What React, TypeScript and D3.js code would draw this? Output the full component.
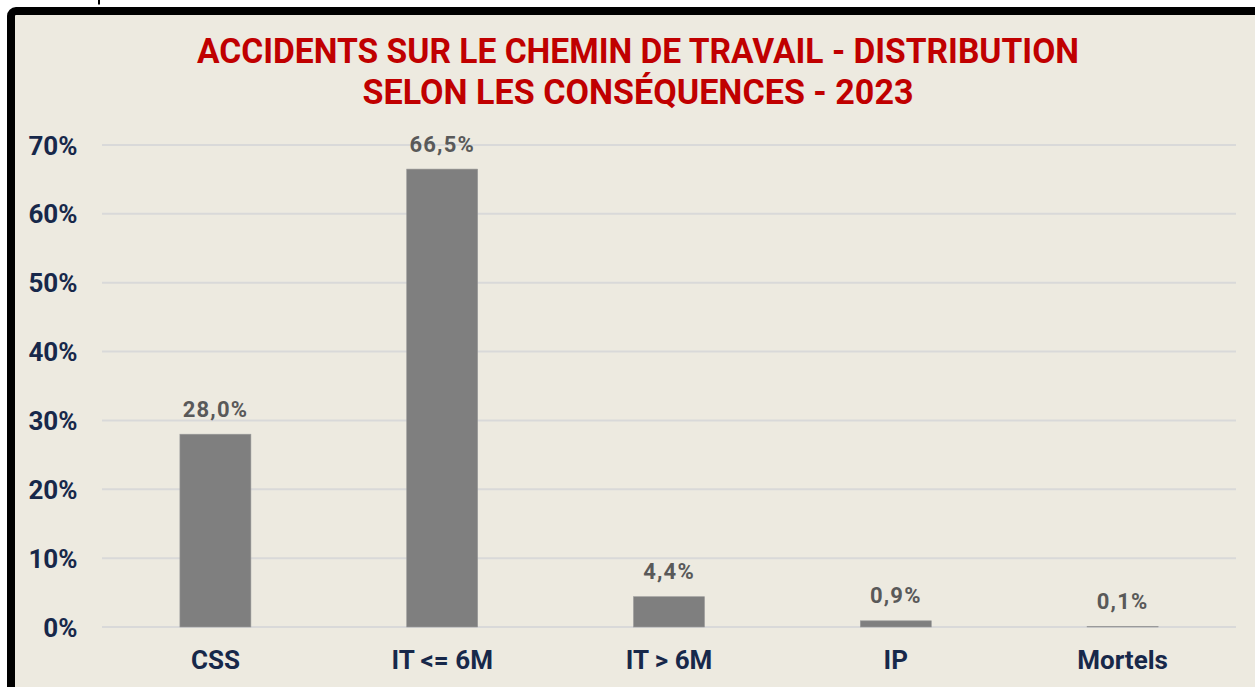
import React from "react";
import * as d3 from "d3";

const categories = ["CSS", "IT <= 6M", "IT > 6M", "IP", "Mortels"];
const values = [28.0, 66.5, 4.4, 0.9, 0.1];
const yTicks = [0, 10, 20, 30, 40, 50, 60, 70];
const titleLines = [
  "ACCIDENTS SUR LE CHEMIN DE TRAVAIL - DISTRIBUTION",
  "SELON LES CONSÉQUENCES - 2023",
];

const W = 1255;
const H = 687;
const FONT = "Roboto, 'DejaVu Sans', sans-serif";

export default function App() {
  const x = d3.scaleBand<string>().domain(categories).range([102, 1236]).padding(0);
  const y = d3.scaleLinear().domain([0, 70]).range([627, 145]);
  const barW = x.bandwidth() * 0.313;
  const fmt = (v: number) => v.toFixed(1).replace(".", ",") + "%";

  return (
    <svg
      width={W}
      height={H}
      style={{ position: "fixed", left: 0, top: 0, background: "#ffffff" }}
      fontFamily={FONT}
    >
      <line x1={99} x2={99} y1={0} y2={4.5} stroke="#000" strokeWidth={2} />
      <rect x={11} y={11} width={W + 40} height={H + 40} rx={5} fill="#EDEAE0" stroke="#000" strokeWidth={8} />
      {titleLines.map((t, i) => (
        <text
          key={i}
          x={638}
          y={63 + i * 41}
          textAnchor="middle"
          fill="#C00000"
          fontWeight="bold"
          fontSize={35}
          textLength={i === 0 ? 882 : 551}
          lengthAdjust="spacingAndGlyphs"
        >
          {t}
        </text>
      ))}
      {yTicks.map((t) => (
        <g key={t}>
          <line x1={102} x2={1236} y1={y(t)} y2={y(t)} stroke="#D9D9D9" strokeWidth={2} />
          <text
            x={77.5}
            y={y(t) + 9.5}
            textAnchor="end"
            fill="#17284A"
            fontWeight="bold"
            fontSize={26}
          >
            {t + "%"}
          </text>
        </g>
      ))}
      {categories.map((c, i) => {
        const cx = (x(c) as number) + x.bandwidth() / 2;
        return (
          <g key={c}>
            <rect
              x={cx - barW / 2}
              y={y(values[i])}
              width={barW}
              height={y(0) - y(values[i])}
              fill="#7F7F7F"
              stroke="#9A9A9A"
              strokeWidth={0.6}
            />
            <text
              x={cx}
              y={y(values[i]) - 17.5}
              textAnchor="middle"
              fill="#595959"
              fontWeight="bold"
              fontSize={22}
              letterSpacing={1.2}
            >
              {fmt(values[i])}
            </text>
            <text
              x={cx}
              y={669}
              textAnchor="middle"
              fill="#17284A"
              fontWeight="bold"
              fontSize={26}
            >
              {c}
            </text>
          </g>
        );
      })}
    </svg>
  );
}
